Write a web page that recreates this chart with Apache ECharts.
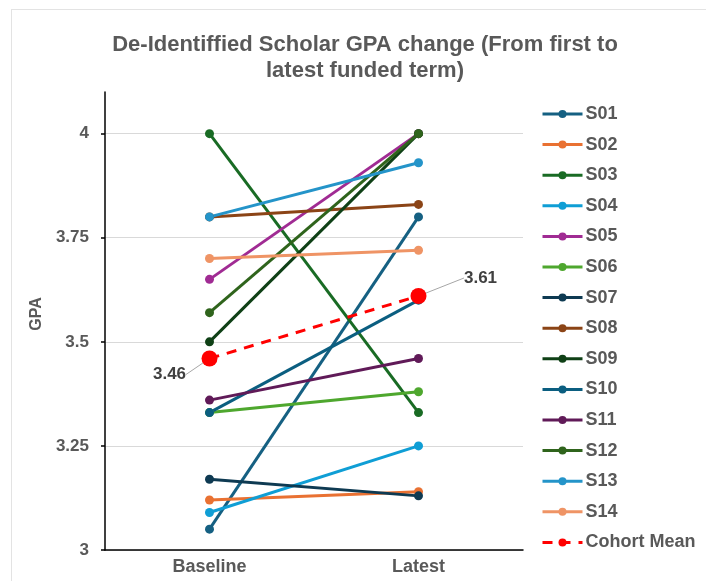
<!DOCTYPE html>
<html>
<head>
<meta charset="utf-8">
<script src="https://cdn.jsdelivr.net/npm/echarts@6/dist/echarts.min.js"></script>
</head>
<body style="margin:0;background:#fff">
<div style="position:absolute;left:11px;top:9px;width:710px;height:600px;border:1px solid #e3e3e3;"></div>
<div id="container" style="position:absolute;left:0;top:0;width:706px;height:581px"></div>
<script type="text/javascript">
var terms = ['Baseline', 'Latest'];
var scholars = ['S01', 'S02', 'S03', 'S04', 'S05', 'S06', 'S07', 'S08', 'S09', 'S10', 'S11', 'S12', 'S13', 'S14'];
var baseline = [3.05, 3.12, 4.00, 3.09, 3.65, 3.33, 3.17, 3.80, 3.50, 3.33, 3.36, 3.57, 3.80, 3.70];
var latest   = [3.80, 3.14, 3.33, 3.25, 4.00, 3.38, 3.13, 3.83, 4.00, 3.60, 3.46, 4.00, 3.93, 3.72];
var meanValues = [3.46, 3.61];
var colors = ['#156082', '#e97132', '#196b24', '#0f9ed5', '#a02b93', '#4ea72e', '#0e3a52',
              '#8b4416', '#0f4016', '#0b5e80', '#601a58', '#2f641c', '#2494c9', '#ef9465'];

var dom = document.getElementById('container');
var myChart = echarts.init(dom);

var series = scholars.map(function (name, i) {
    return {
        name: name,
        type: 'line',
        data: [baseline[i], latest[i]],
        symbol: 'circle',
        symbolSize: 9,
        lineStyle: { width: 3, color: colors[i] },
        itemStyle: { color: colors[i] },
        emphasis: { disabled: true }
    };
});

series.push({
    name: 'Cohort Mean',
    type: 'line',
    data: meanValues,
    symbol: 'circle',
    symbolSize: 16,
    z: 5,
    lineStyle: { width: 3, color: '#ff0000', type: [10, 8] },
    itemStyle: { color: '#ff0000' },
    label: {
        show: true,
        position: 'inside',
        color: '#404040',
        fontSize: 17,
        fontWeight: 'bold',
        fontFamily: 'Liberation Sans',
        formatter: function (p) { return p.value.toFixed(2); }
    },
    labelLine: { show: true, lineStyle: { color: '#a6a6a6', width: 1 } },
    labelLayout: function (params) {
        if (params.dataIndex === 0) return { dx: -40, dy: 16 };
        return { dx: 62, dy: -18 };
    },
    emphasis: { disabled: true }
});

var option = {
    backgroundColor: 'transparent',
    animation: false,
    textStyle: { fontFamily: 'Liberation Sans' },
    title: {
        text: 'De-Identiffied Scholar GPA change (From first to\nlatest funded term)',
        left: 360,
        textAlign: 'center',
        top: 27,
        textStyle: { color: '#595959', fontSize: 22, fontWeight: 'bold', lineHeight: 26, fontFamily: 'Liberation Sans' }
    },
    legend: {
        orient: 'vertical',
        left: 536,
        top: 100,
        itemWidth: 40,
        itemHeight: 10,
        itemGap: 12.6,
        lineStyle: { width: 3 },
        textStyle: { color: '#595959', fontSize: 18, fontWeight: 'bold', padding: [0, 0, 0, -2] },
        data: scholars.concat(['Cohort Mean'])
    },
    grid: { left: 105, right: 183, top: 92, bottom: 31, containLabel: false },
    xAxis: {
        type: 'category',
        data: terms,
        boundaryGap: true,
        axisLine: { lineStyle: { color: '#000', width: 1.5 } },
        axisTick: { alignWithLabel: true, length: 5, lineStyle: { color: '#000', width: 1.5 } },
        axisLabel: { color: '#595959', fontSize: 18, fontWeight: 'bold', margin: 8 }
    },
    yAxis: {
        type: 'value',
        min: 3,
        max: 4.1,
        interval: 0.25,
        name: 'GPA',
        nameLocation: 'middle',
        nameGap: 52,
        nameTextStyle: { color: '#595959', fontSize: 16, fontWeight: 'bold', padding: [0, 0, 0, 14] },
        axisLine: { show: true, lineStyle: { color: '#000', width: 1.5 } },
        axisTick: { show: true, length: 4, lineStyle: { color: '#000', width: 1.5 } },
        axisLabel: {
            color: '#595959', fontSize: 17, fontWeight: 'bold', margin: 16,
            showMaxLabel: false,
            formatter: function (v) { return String(v); }
        },
        splitLine: { show: true, showMaxLine: false, lineStyle: { color: '#d9d9d9', width: 1 } }
    },
    series: series
};

myChart.setOption(option);
</script>
</body>
</html>
